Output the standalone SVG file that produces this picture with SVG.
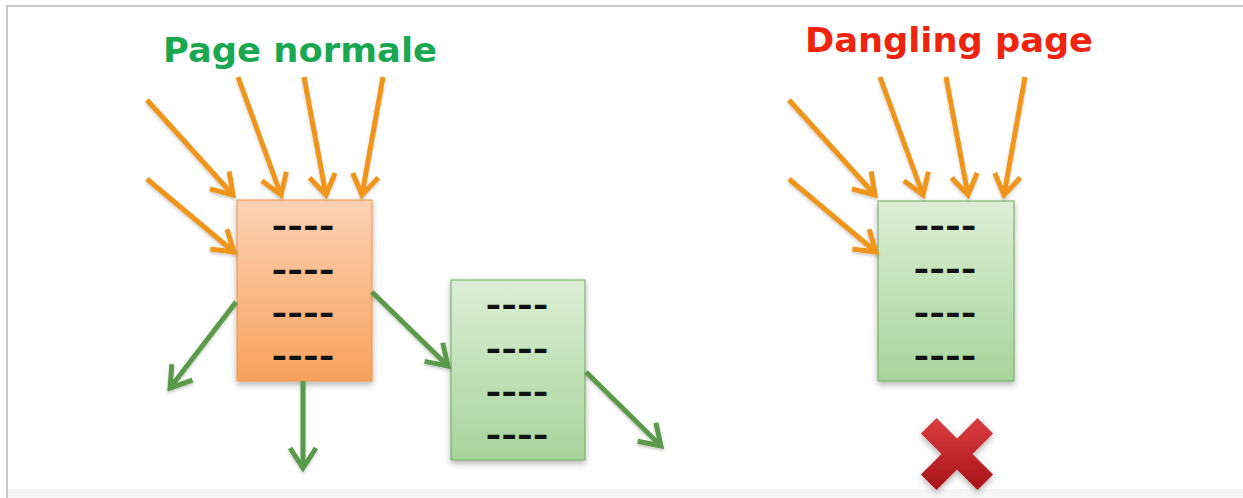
<svg xmlns="http://www.w3.org/2000/svg" width="1243" height="498" viewBox="0 0 1243 498">
  <style>
    .title { font-family: "DejaVu Sans", Verdana, sans-serif; font-weight: bold; font-size: 34px; }
    .dash { font-family: "DejaVu Sans", sans-serif; font-weight: bold; font-size: 31px; fill: #111; }
    .in { fill: none; stroke: #f0951a; stroke-width: 5; marker-end: url(#headO); }
    .out { fill: none; stroke: #5c9a4c; stroke-width: 5; marker-end: url(#headG); }
  </style>
  <defs>
    <linearGradient id="gOrange" x1="0" y1="0" x2="0" y2="1">
      <stop offset="0" stop-color="#fcd2b4"/>
      <stop offset="1" stop-color="#f8a25c"/>
    </linearGradient>
    <linearGradient id="gGreen" x1="0" y1="0" x2="0" y2="1">
      <stop offset="0" stop-color="#dcefd6"/>
      <stop offset="1" stop-color="#a7d49a"/>
    </linearGradient>
    <linearGradient id="gRed" gradientUnits="userSpaceOnUse" x1="0" y1="418" x2="0" y2="490">
      <stop offset="0" stop-color="#dc3c40"/>
      <stop offset="1" stop-color="#a6141a"/>
    </linearGradient>
    <filter id="shadow" x="-20%" y="-20%" width="140%" height="140%">
      <feDropShadow dx="0" dy="3" stdDeviation="3" flood-color="#000" flood-opacity="0.3"/>
    </filter>
    <filter id="ashadow" x="-20%" y="-20%" width="140%" height="140%">
      <feDropShadow dx="0" dy="2" stdDeviation="1.5" flood-color="#000" flood-opacity="0.2"/>
    </filter>
    <marker id="headO" markerUnits="userSpaceOnUse" viewBox="-26 -17 30 34" markerWidth="30" markerHeight="34" refX="0" refY="0" orient="auto">
      <path d="M-20,-13 L0,0 L-20,13" fill="none" stroke="#f0951a" stroke-width="5" stroke-linejoin="miter"/>
    </marker>
    <marker id="headG" markerUnits="userSpaceOnUse" viewBox="-26 -17 30 34" markerWidth="30" markerHeight="34" refX="0" refY="0" orient="auto">
      <path d="M-20,-13 L0,0 L-20,13" fill="none" stroke="#5c9a4c" stroke-width="5" stroke-linejoin="miter"/>
    </marker>
  </defs>

  <rect x="0" y="0" width="1243" height="498" fill="#ffffff"/>
  <rect x="8" y="489" width="1235" height="9" fill="#f6f6f6"/>
  <line x1="6" y1="6" x2="1243" y2="6" stroke="#c8c8c8" stroke-width="2"/>
  <line x1="7" y1="5" x2="7" y2="498" stroke="#c8c8c8" stroke-width="2"/>

  <g id="title-normale">
    <text class="title" x="300" y="62" text-anchor="middle" fill="#1aa752" textLength="274" lengthAdjust="spacingAndGlyphs">Page normale</text>
  </g>
  <g id="title-dangling">
    <text class="title" x="949" y="52" text-anchor="middle" fill="#f0230f" textLength="288" lengthAdjust="spacingAndGlyphs">Dangling page</text>
  </g>

  <g id="page-normale">
    <rect x="237" y="200" width="135" height="181" fill="url(#gOrange)" stroke="#ee9446" stroke-width="1" filter="url(#shadow)"/>
    <text class="dash" x="303" y="237" text-anchor="middle" textLength="63" lengthAdjust="spacingAndGlyphs">----</text>
    <text class="dash" x="303" y="281" text-anchor="middle" textLength="63" lengthAdjust="spacingAndGlyphs">----</text>
    <text class="dash" x="303" y="324" text-anchor="middle" textLength="63" lengthAdjust="spacingAndGlyphs">----</text>
    <text class="dash" x="303" y="367" text-anchor="middle" textLength="63" lengthAdjust="spacingAndGlyphs">----</text>
  </g>

  <g id="page-linked">
    <rect x="451" y="280" width="134" height="180" fill="url(#gGreen)" stroke="#6aa85a" stroke-width="1" filter="url(#shadow)"/>
    <text class="dash" x="517" y="316" text-anchor="middle" textLength="63" lengthAdjust="spacingAndGlyphs">----</text>
    <text class="dash" x="517" y="360" text-anchor="middle" textLength="63" lengthAdjust="spacingAndGlyphs">----</text>
    <text class="dash" x="517" y="403" text-anchor="middle" textLength="63" lengthAdjust="spacingAndGlyphs">----</text>
    <text class="dash" x="517" y="446" text-anchor="middle" textLength="63" lengthAdjust="spacingAndGlyphs">----</text>
  </g>

  <g id="page-dangling">
    <rect x="878" y="201" width="136" height="180" fill="url(#gGreen)" stroke="#6aa85a" stroke-width="1" filter="url(#shadow)"/>
    <text class="dash" x="945" y="237" text-anchor="middle" textLength="63" lengthAdjust="spacingAndGlyphs">----</text>
    <text class="dash" x="945" y="280" text-anchor="middle" textLength="63" lengthAdjust="spacingAndGlyphs">----</text>
    <text class="dash" x="945" y="324" text-anchor="middle" textLength="63" lengthAdjust="spacingAndGlyphs">----</text>
    <text class="dash" x="945" y="367" text-anchor="middle" textLength="63" lengthAdjust="spacingAndGlyphs">----</text>
  </g>

  <g id="cross-mark" filter="url(#shadow)">
    <polygon fill="url(#gRed)" points="993.06,433.5 972.56,454 993.06,474.5 977.5,490.06 957,469.56 936.5,490.06 920.94,474.5 941.44,454 920.94,433.5 936.5,417.94 957,438.44 977.5,417.94"/>
  </g>

  <g id="connectors" filter="url(#ashadow)">
    <line class="in" x1="147" y1="100" x2="233" y2="195"/>
    <line class="in" x1="147" y1="179" x2="234" y2="252"/>
    <line class="in" x1="238" y1="77" x2="281" y2="195"/>
    <line class="in" x1="304" y1="77" x2="326" y2="195"/>
    <line class="in" x1="383" y1="77" x2="362" y2="195"/>

    <line class="out" x1="236" y1="302" x2="170" y2="388"/>
    <line class="out" x1="303" y1="381" x2="303" y2="468"/>
    <line class="out" x1="372" y1="292" x2="448" y2="366"/>
    <line class="out" x1="586" y1="372" x2="661" y2="446"/>

    <line class="in" x1="789" y1="100" x2="875" y2="195"/>
    <line class="in" x1="789" y1="179" x2="876" y2="252"/>
    <line class="in" x1="880" y1="77" x2="923" y2="195"/>
    <line class="in" x1="946" y1="77" x2="968" y2="195"/>
    <line class="in" x1="1025" y1="77" x2="1004" y2="195"/>
  </g>
</svg>
